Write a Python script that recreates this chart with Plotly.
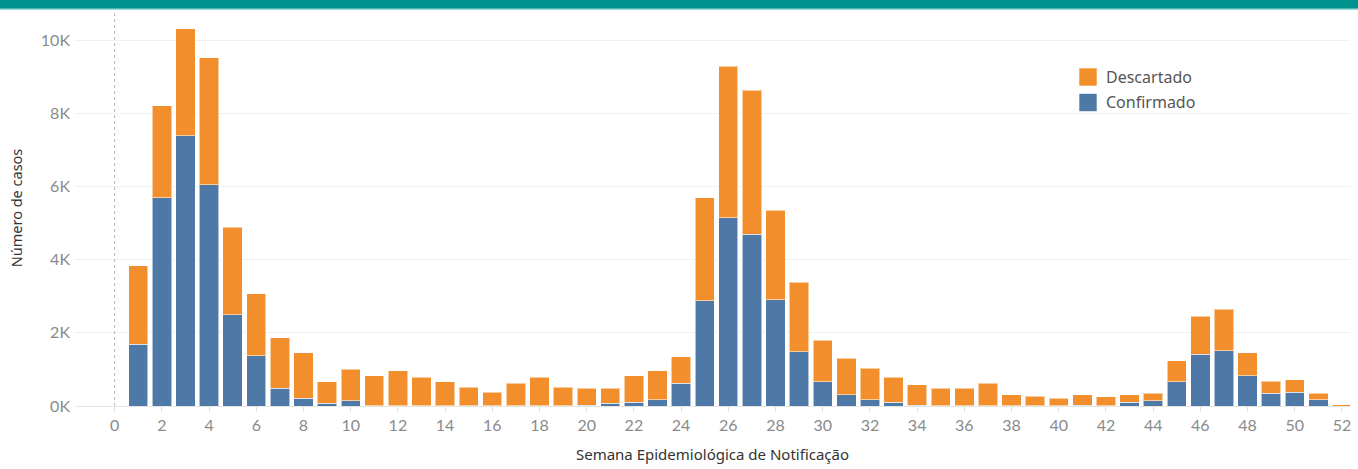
import plotly.graph_objects as go

weeks = list(range(1, 53))
total = [3.83, 8.21, 10.31, 9.52, 4.89, 3.07, 1.86, 1.45, 0.66, 1.00,
         0.82, 0.96, 0.78, 0.66, 0.51, 0.37, 0.62, 0.79, 0.51, 0.48,
         0.48, 0.82, 0.96, 1.34, 5.69, 9.28, 8.63, 5.35, 3.38, 1.79,
         1.31, 1.03, 0.79, 0.58, 0.48, 0.48, 0.62, 0.31, 0.27, 0.21,
         0.31, 0.25, 0.31, 0.35, 1.24, 2.45, 2.65, 1.45, 0.68, 0.72,
         0.35, 0.03]
confirmado = [1.69, 5.69, 7.39, 6.04, 2.49, 1.37, 0.48, 0.21, 0.07, 0.14,
              0.01, 0.01, 0.01, 0.01, 0.01, 0.01, 0.01, 0.01, 0.01, 0.02,
              0.07, 0.10, 0.17, 0.62, 2.87, 5.15, 4.69, 2.90, 1.48, 0.66,
              0.31, 0.17, 0.10, 0.02, 0.01, 0.01, 0.01, 0.01, 0.01, 0.01,
              0.02, 0.01, 0.10, 0.14, 0.66, 1.41, 1.51, 0.83, 0.35, 0.38,
              0.17, 0.0]
confirmado = [c * 1000 for c in confirmado]
descartado = [t * 1000 - c for t, c in zip(total, confirmado)]

y_ticks = [0, 2000, 4000, 6000, 8000, 10000]
y_ticktext = ["0K", "2K", "4K", "6K", "8K", "10K"]
x_ticks = list(range(0, 53, 2))

ORANGE = "#F28E2B"
BLUE = "#4E79A7"
FONT = "Lato"

fig = go.Figure()
fig.add_trace(go.Bar(x=weeks, y=confirmado, name="Confirmado", marker_color=BLUE,
                     marker_line=dict(color="rgba(255,255,255,0.55)", width=1),
                     width=0.82, showlegend=False))
fig.add_trace(go.Bar(x=weeks, y=descartado, name="Descartado", marker_color=ORANGE,
                     marker_line=dict(color="rgba(255,255,255,0.55)", width=1),
                     width=0.82, showlegend=False))

fig.update_layout(
    barmode="stack",
    width=1358, height=469,
    margin=dict(l=75, r=8, t=10, b=63),
    paper_bgcolor="white", plot_bgcolor="white",
    font=dict(family=FONT, color="#888888", size=15),
)
fig.update_xaxes(
    range=[-1.68, 52.34], tickvals=x_ticks, ticktext=[str(v) for v in x_ticks],
    showgrid=False, zeroline=False, showline=True, linecolor="#e6e6e6", linewidth=1,
    ticks="outside", ticklen=5, tickcolor="#e0e0e0", automargin=False,
    tickfont=dict(size=16, color="#8a8a8a", family=FONT),
    title=dict(text="Semana Epidemiológica de Notificação", standoff=16,
               font=dict(size=15, color="#333333", family="Noto Sans")),
)
fig.update_yaxes(
    range=[0, 10820], tickvals=y_ticks, ticktext=y_ticktext,
    showgrid=True, gridcolor="#f0f0f0", gridwidth=1, zeroline=False,
    tickfont=dict(size=16, color="#8a8a8a", family=FONT),
    ticklabelstandoff=4, automargin=False,
    title=dict(text="Número de casos", standoff=14,
               font=dict(size=14.5, color="#333333", family="Noto Sans")),
)

# zero reference line at week 0
fig.add_shape(type="line", xref="x", yref="paper", x0=0, x1=0, y0=0, y1=1,
              line=dict(color="#b5b5b5", width=1, dash="dot"))
# top band
fig.add_shape(type="rect", xref="paper", yref="paper", x0=-0.07, x1=1.01,
              y0=1.0033, y1=1.03, fillcolor="#00928E", line_width=0, layer="above")
fig.add_shape(type="rect", xref="paper", yref="paper", x0=-0.07, x1=1.01,
              y0=1.0005, y1=1.0033, fillcolor="#7fd1cd", line_width=0, layer="above")
# custom legend
for i, (name, col) in enumerate([("Descartado", ORANGE), ("Confirmado", BLUE)]):
    yc = 77 + i * 25.5
    y0p = (406 - (yc + 9)) / 396
    y1p = (406 - (yc - 9)) / 396
    x0p = (1079 - 75) / 1275
    x1p = (1097 - 75) / 1275
    fig.add_shape(type="rect", xref="paper", yref="paper", x0=x0p, x1=x1p,
                  y0=y0p, y1=y1p, fillcolor=col, line=dict(color="rgba(255,255,255,0.6)", width=1))
    fig.add_annotation(xref="paper", yref="paper", x=(1104 - 75) / 1275,
                       y=(406 - yc) / 396, text=name, showarrow=False,
                       xanchor="left", yanchor="middle",
                       font=dict(size=16, color="#555555", family="Noto Sans"))

fig.write_html("out.html", config={"displayModeBar": False},
               post_script="document.body.style.margin='0';document.body.style.padding='0';document.body.style.overflow='hidden';")
